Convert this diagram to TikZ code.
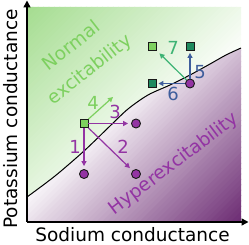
\documentclass[tikz,border=0pt]{standalone}
\usepackage{fontspec}
\setmainfont{DejaVu Sans}
\usetikzlibrary{arrows.meta}
\definecolor{gcorner}{HTML}{A3DC8E}
\definecolor{pcorner}{HTML}{6B2A72}
\definecolor{purp}{HTML}{9334A3}
\definecolor{lgreen}{HTML}{7DD05F}
\definecolor{dgreen}{HTML}{1E8A5E}
\definecolor{teal7}{HTML}{3DB374}
\definecolor{blu}{HTML}{3F5E9C}
\tikzset{
  txt/.style={font=\fontsize{18.5}{20}\selectfont, inner sep=0pt},
  lbl/.style={font=\fontsize{18}{20}\selectfont, inner sep=0pt},
  sqmark/.style={rectangle, draw=black!90, line width=0.9pt, minimum size=8pt, inner sep=0pt},
  cmark/.style={circle, draw=black!90, line width=0.9pt, fill=purp, minimum size=9pt, inner sep=0pt},
  arr/.style={line width=1.2pt, -{Triangle[width=5pt,length=5pt]}},
  axis/.style={line width=1.5pt, -{Triangle[width=7pt,length=7pt]}}
}
\begin{document}
\begin{tikzpicture}[x=1pt,y=-1pt]
\useasboundingbox (0,0) rectangle (249,245);
\def\curvepts{(27,197) (55,176) (84,151) (110,126) (128,109) (148,95) (170,85) (190,75) (210,64) (226,55) (241,48)}
% green region: diagonal bands
\begin{scope}
\clip (27,7) -- plot[smooth] coordinates {\curvepts} -- (241,7) -- cycle;
\foreach \i in {0,...,79} {
  \pgfmathsetmacro\ta{\i*5.3625}
  \pgfmathsetmacro\tb{\i*5.3625+6.2}
  \pgfmathtruncatemacro\gp{max(0,100*(1-((\i+0.5)/80)/0.62))}
  \fill[gcorner!\gp!white] ({27+\ta+250},-243) -- ({27+\ta-250},257) -- ({27+\tb-250},257) -- ({27+\tb+250},-243) -- cycle;
}
\end{scope}
% purple region: diagonal bands
\begin{scope}
\clip (27,222) -- plot[smooth] coordinates {\curvepts} -- (241,222) -- cycle;
\foreach \i in {0,...,79} {
  \pgfmathsetmacro\ta{\i*5.3625}
  \pgfmathsetmacro\tb{\i*5.3625+6.2}
  \pgfmathtruncatemacro\pp{max(0,100*(((\i+0.5)/80)-0.42)/0.58)}
  \fill[pcorner!\pp!white] ({27+\ta+250},-243) -- ({27+\ta-250},257) -- ({27+\tb-250},257) -- ({27+\tb+250},-243) -- cycle;
}
\end{scope}
\draw[line width=1pt] plot[smooth] coordinates {\curvepts};
% axes
\coordinate (O) at (27,222);
\coordinate (ytip) at (27,0.5);
\coordinate (xtip) at (248.5,222);
\draw[axis] (O) -- (ytip);
\draw[axis] (O) -- (xtip);
\node[txt, anchor=base] (xl) at (132.5,242) {Sodium conductance};
\node[txt, anchor=base, rotate=90] (yl) at (17,119) {Potassium conductance};
% region labels
\node[txt, text=lgreen, rotate=38] (nrm) at (71,45) {Normal};
\node[txt, text=lgreen, rotate=38] (exc) at (90,70) {excitability};
\node[txt, text=purp, rotate=37] (hyp) at (174,164) {Hyperexcitability};
% markers lower group
\node[sqmark, fill=lgreen] (sq) at (84,123.5) {};
\node[cmark] (c3) at (136,123.5) {};
\node[cmark] (c1) at (84,174) {};
\node[cmark] (c2) at (136,174) {};
% markers upper group
\node[cmark] (cc) at (190,83.5) {};
\node[sqmark, fill=dgreen] (s5) at (190,46.5) {};
\node[sqmark, fill=dgreen] (s6) at (152.5,83.5) {};
\node[sqmark, fill=lgreen] (s7) at (152.5,46.5) {};
\coordinate (a4) at (113,97);
% arrows
\draw[arr, purp, shorten >=3pt] (sq.south) -- (c1);
\draw[arr, purp, shorten >=3.5pt] (sq.south east) -- (c2);
\draw[arr, purp, shorten >=3pt] (sq.east) -- (c3);
\draw[arr, lgreen] (sq.north east) -- (a4);
\draw[arr, blu, shorten >=2pt] (cc.north) -- (s5);
\draw[arr, blu, shorten >=1.5pt] (cc.west) -- (s6);
\draw[arr, teal7, shorten >=3.5pt] (cc.north west) -- (s7);
% number labels
\node[lbl, text=purp] (n1) at (75,147) {1};
\node[lbl, text=purp] (n2) at (123,147) {2};
\node[lbl, text=purp] (n3) at (115,112) {3};
\node[lbl, text=lgreen] (n4) at (93,103) {4};
\node[lbl, text=blu] (n5) at (200,72) {5};
\node[lbl, text=blu] (n6) at (173,94) {6};
\node[lbl, text=teal7] (n7) at (173,48) {7};
\end{tikzpicture}
\end{document}
